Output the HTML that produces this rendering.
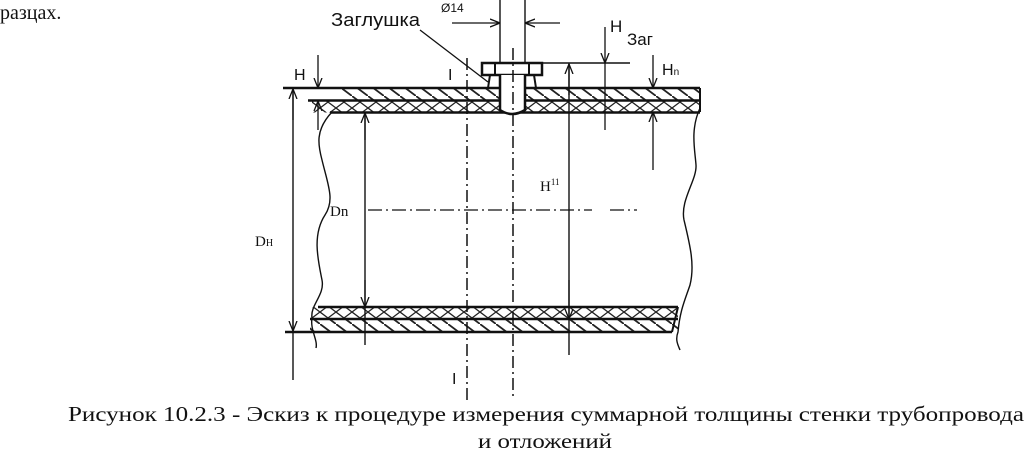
<!DOCTYPE html>
<html><head><meta charset="utf-8"><style>
html,body{margin:0;padding:0;background:#fff;}
svg{display:block;}
</style></head><body>
<svg width="1026" height="458" viewBox="0 0 1026 458" xmlns="http://www.w3.org/2000/svg">
<defs>
<pattern id="h1" patternUnits="userSpaceOnUse" width="16" height="12"><line x1="0" y1="0" x2="16" y2="12" stroke="#222" stroke-width="1.8"/></pattern>
<pattern id="h2" patternUnits="userSpaceOnUse" width="16" height="12"><path d="M0 0 L16 12 M16 0 L0 12" stroke="#222" stroke-width="1.3" fill="none"/></pattern>
<marker id="a" viewBox="0 0 10 10" refX="10" refY="5" markerWidth="10" markerHeight="10" markerUnits="userSpaceOnUse" orient="auto"><path d="M0 1 L10 5 L0 9" fill="none" stroke="#111" stroke-width="1.3"/></marker>
</defs>
<g font-family="Liberation Serif, serif" fill="#111">
<text x="0" y="19" font-size="20">разцах.</text>
<text x="68" y="421" font-size="21" textLength="956" lengthAdjust="spacingAndGlyphs">Рисунок 10.2.3 - Эскиз к процедуре измерения суммарной толщины стенки трубопровода</text>
<text x="478" y="448" font-size="21" textLength="134" lengthAdjust="spacingAndGlyphs">и отложений</text>
<text x="255" y="246" font-size="15">D<tspan font-size="10">H</tspan></text>
<text x="330" y="216" font-size="15">Dn</text>
<text x="540" y="191" font-size="15">H<tspan font-size="9" dy="-6">11</tspan></text>
</g>
<g font-family="Liberation Sans, sans-serif" fill="#111">
<text x="331" y="26" font-size="18" textLength="89" lengthAdjust="spacingAndGlyphs">Заглушка</text>
<text x="441" y="12" font-size="12">Ø14</text>
<text x="610" y="32" font-size="17">H</text>
<text x="627" y="45" font-size="17">Заг</text>
<text x="294" y="80" font-size="16">H</text>
<text x="662" y="75" font-size="16">H<tspan font-size="10">n</tspan></text>
<text x="448" y="80" font-size="16">I</text>
<text x="452" y="384" font-size="16">I</text>
</g>
<g stroke="#111" fill="none">
<rect x="342" y="88" width="358" height="12.5" fill="url(#h1)" stroke="none"/>
<rect x="312" y="100.5" width="388" height="12" fill="url(#h2)" stroke="none"/>
<line x1="283" y1="88" x2="700" y2="88" stroke-width="2.5"/>
<line x1="308" y1="100.5" x2="700" y2="100.5" stroke-width="2.5"/>
<line x1="330" y1="112.5" x2="700" y2="112.5" stroke-width="2.5"/>
<line x1="700" y1="88" x2="700" y2="112" stroke-width="2"/>
<rect x="312" y="307" width="366" height="12" fill="url(#h2)" stroke="none"/>
<rect x="310" y="319" width="368" height="13" fill="url(#h1)" stroke="none"/>
<line x1="318" y1="307" x2="678" y2="307" stroke-width="2.5"/>
<line x1="310" y1="319" x2="678" y2="319" stroke-width="2.5"/>
<line x1="285" y1="332" x2="672" y2="332" stroke-width="2.5"/>
<line x1="678" y1="307" x2="672" y2="332" stroke-width="2"/>
<path d="M332 112 C315 130 318 145 322 160 C328 185 335 200 325 215 C312 235 318 260 322 280 C325 295 310 305 312 318 C310 330 318 340 316 348" stroke-width="1.4"/>
<path d="M700 108 C690 130 695 150 696 165 C697 180 680 200 684 220 C690 245 695 265 690 285 C685 300 680 310 678 332 C675 340 678 345 680 350" stroke-width="1.4"/>
<rect x="482" y="63" width="60" height="12" fill="#fff" stroke-width="2.5"/>
<line x1="495" y1="63" x2="495" y2="75" stroke-width="2"/>
<line x1="529" y1="63" x2="529" y2="75" stroke-width="2"/>
<path d="M488 88 L490 75 L534 75 L536 88" stroke-width="2"/>
<path d="M500 75 L500 110 Q512 118 525 110 L525 75" fill="#fff" stroke-width="2.5"/>
<line x1="500" y1="0" x2="500" y2="63" stroke-width="1.4"/>
<line x1="525" y1="0" x2="525" y2="63" stroke-width="1.4"/>
<line x1="452" y1="23" x2="500" y2="23" stroke-width="1.3" marker-end="url(#a)"/>
<line x1="560" y1="23" x2="525" y2="23" stroke-width="1.3" marker-end="url(#a)"/>
<line x1="420" y1="30" x2="488" y2="82" stroke-width="1.3"/>
<line x1="542" y1="63" x2="630" y2="63" stroke-width="1.4"/>
<line x1="605" y1="27" x2="605" y2="63" stroke-width="1.3" marker-end="url(#a)"/>
<line x1="605" y1="63" x2="605" y2="130" stroke-width="1.3"/>
<line x1="653" y1="55" x2="653" y2="88" stroke-width="1.3" marker-end="url(#a)"/>
<line x1="653" y1="170" x2="653" y2="112" stroke-width="1.3" marker-end="url(#a)"/>
<line x1="318" y1="55" x2="318" y2="88" stroke-width="1.3" marker-end="url(#a)"/>
<line x1="318" y1="130" x2="318" y2="101" stroke-width="1.3" marker-end="url(#a)"/>
<line x1="293" y1="88" x2="293" y2="380" stroke-width="1.4"/>
<line x1="293" y1="120" x2="293" y2="89" stroke-width="1.3" marker-end="url(#a)"/>
<line x1="293" y1="300" x2="293" y2="331" stroke-width="1.3" marker-end="url(#a)"/>
<line x1="365" y1="112" x2="365" y2="345" stroke-width="1.4"/>
<line x1="365" y1="140" x2="365" y2="113" stroke-width="1.3" marker-end="url(#a)"/>
<line x1="365" y1="280" x2="365" y2="307" stroke-width="1.3" marker-end="url(#a)"/>
<line x1="569" y1="63" x2="569" y2="355" stroke-width="1.4"/>
<line x1="569" y1="95" x2="569" y2="64" stroke-width="1.3" marker-end="url(#a)"/>
<line x1="569" y1="280" x2="569" y2="319" stroke-width="1.3" marker-end="url(#a)"/>
<line x1="467" y1="58" x2="467" y2="400" stroke-width="1.5" stroke-dasharray="12 4 2 4"/>
<line x1="513" y1="48" x2="513" y2="400" stroke-width="1.5" stroke-dasharray="12 4 2 4"/>
<line x1="368" y1="210" x2="592" y2="210" stroke-width="1.3" stroke-dasharray="14 4 2 4"/>
<line x1="610" y1="210" x2="637" y2="210" stroke-width="1.3" stroke-dasharray="14 4 2 4"/>
</g>
</svg>
</body></html>
